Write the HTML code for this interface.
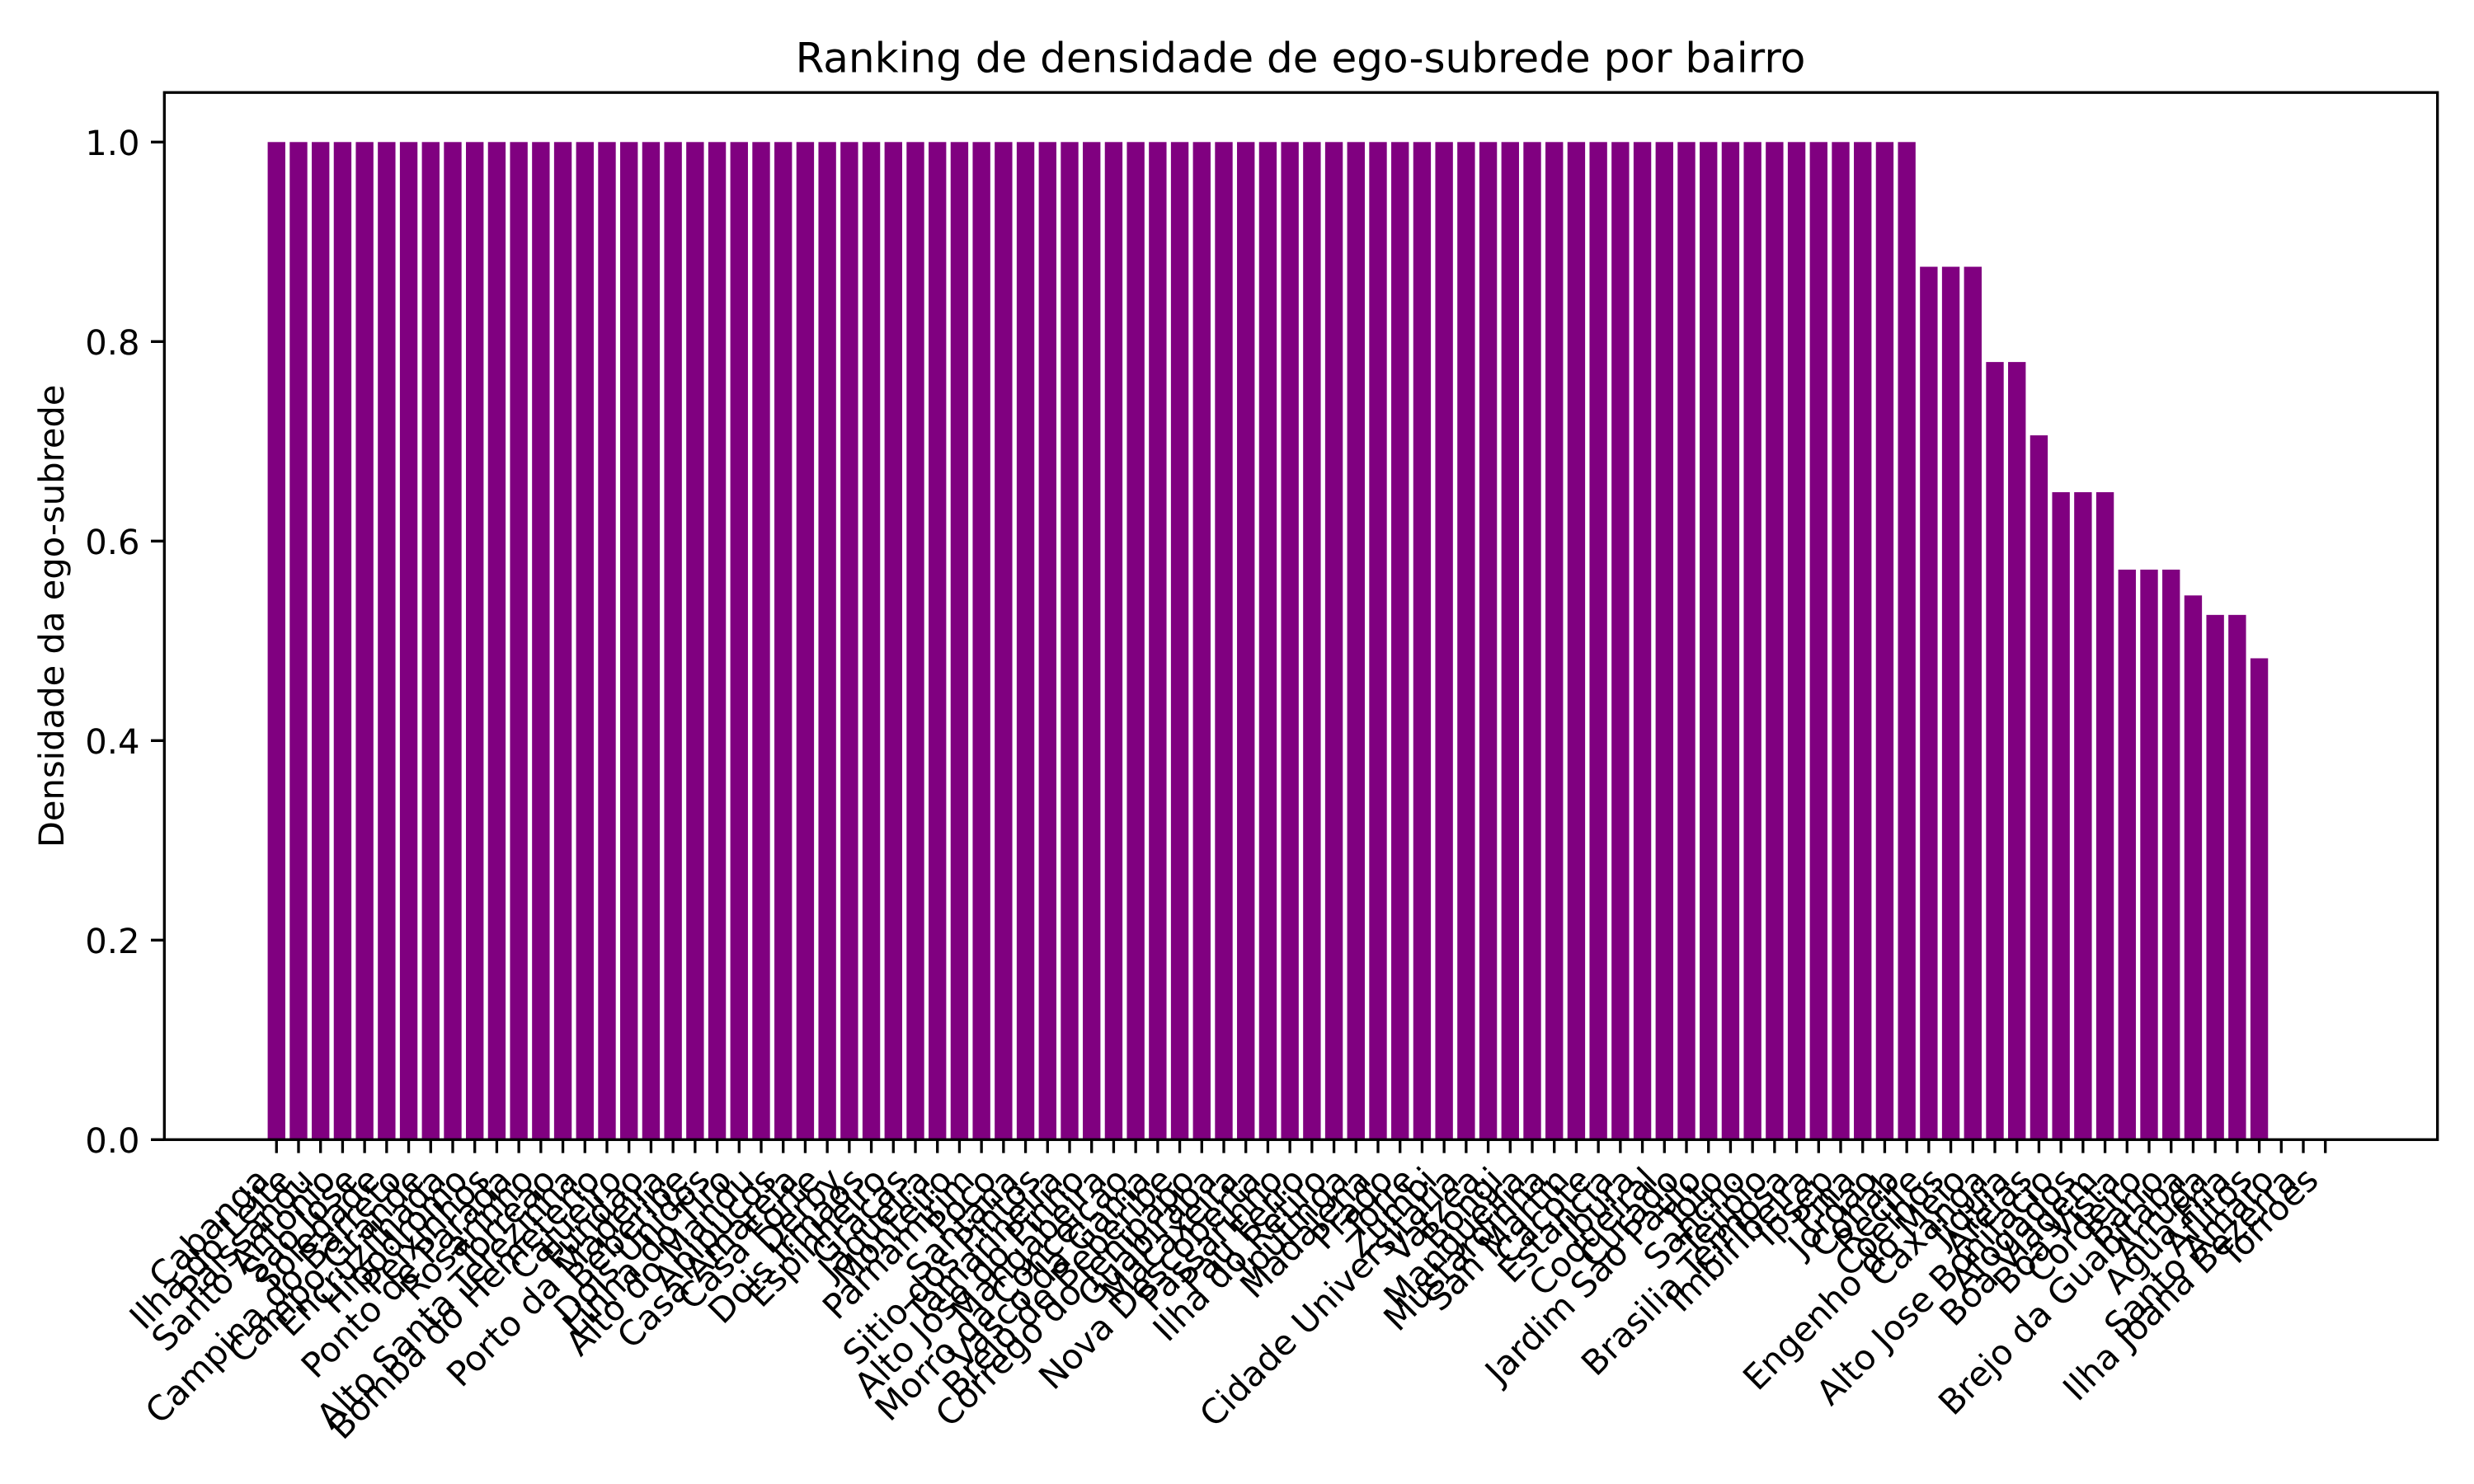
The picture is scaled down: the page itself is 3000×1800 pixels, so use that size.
<!DOCTYPE html>
<html lang="pt">
<head>
<meta charset="utf-8">
<title>Ranking de densidade de ego-subrede por bairro</title>
<style>
html,body{margin:0;padding:0;background:#fff;}
svg{display:block;}
text{font-family:"DejaVu Sans","Liberation Sans",sans-serif;fill:#000;text-rendering:geometricPrecision;}
</style>
</head>
<body>
<svg id="chart" xmlns="http://www.w3.org/2000/svg" width="3000" height="1800" viewBox="0 0 3000 1800">
  <rect x="0" y="0" width="3000" height="1800" fill="#ffffff"/>
  <g id="bars"></g>
  <g id="x-ticks"></g>
  <g id="y-ticks"></g>
  <rect x="199.3" y="112.2" width="2756.4" height="1270.1" fill="none" stroke="#000" stroke-width="3.33"/>
  <text x="1577" y="87.5" font-size="50" text-anchor="middle">Ranking de densidade de ego-subrede por bairro</text>
  <text transform="translate(77.2,747.3) rotate(-90)" font-size="41.67" text-anchor="middle">Densidade da ego-subrede</text>
</svg>
<script>
const categories = ["Cabanga","Ilha do Leite","Paissandu","Santo Antonio","Sao Jose","Soledade","Campina do Barreto","Campo Grande","Encruzilhada","Hipodromo","Peixinhos","Ponto de Parada","Rosarinho","Torreao","Alto Santa Terezinha","Bomba do Hemeterio","Cajueiro","Fundao","Porto da Madeira","Beberibe","Dois Unidos","Linha do Tiro","Alto do Mandu","Apipucos","Casa Amarela","Casa Forte","Derby","Dois Irmaos","Espinheiro","Gracas","Jaqueira","Monteiro","Parnamirim","Poco","Santana","Sitio dos Pintos","Tamarineira","Alto Jose do Pinho","Mangabeira","Morro da Conceicao","Vasco da Gama","Brejo de Beberibe","Corrego do Jenipapo","Guabiraba","Macaxeira","Nova Descoberta","Passarinho","Pau Ferro","Ilha do Retiro","Iputinga","Madalena","Prado","Torre","Zumbi","Cidade Universitaria","Varzea","Bongi","Mangueira","Mustardinha","San Martin","Cacote","Estancia","Ibura","Coqueiral","Curado","Jardim Sao Paulo","Toto","Sancho","Tejipio","Brasilia Teimosa","Imbiribeira","Ipsep","Pina","Jordao","Cohab","Recife","Coelhos","Engenho do Meio","Caxanga","Jiquia","Areias","Alto Jose Bonifacio","Afogados","Boa Viagem","Boa Vista","Cordeiro","Barro","Brejo da Guabiraba","Arruda","Agua Fria","Aflitos","Santo Amaro","Ilha Joana Bezerra","Torroes"];
const densities = [1,1,1,1,1,1,1,1,1,1,1,1,1,1,1,1,1,1,1,1,1,1,1,1,1,1,1,1,1,1,1,1,1,1,1,1,1,1,1,1,1,1,1,1,1,1,1,1,1,1,1,1,1,1,1,1,1,1,1,1,1,1,1,1,1,1,1,1,1,1,1,1,1,1,1,0.875,0.875,0.875,0.7795,0.7795,0.706,0.649,0.649,0.649,0.5714,0.5714,0.5714,0.5455,0.526,0.526,0.4825,0,0,0];
const yTickValues = [0,0.2,0.4,0.6,0.8,1];
const yTickLabels = ["0.0","0.2","0.4","0.6","0.8","1.0"];

const SVG_NS = "http://www.w3.org/2000/svg";
const plotLeft = 199.3, plotRight = 2955.7, plotBottom = 1382.3;
const xMin = -5.09, xMax = 98.09, yUnit = 1210;
const barWidth = 0.8;

function xScale(i) { return plotLeft + (i - xMin) * (plotRight - plotLeft) / (xMax - xMin); }
function yScale(v) { return plotBottom - v * yUnit; }
function make(tag, attrs) {
  const el = document.createElementNS(SVG_NS, tag);
  for (const k in attrs) el.setAttribute(k, attrs[k]);
  return el;
}

const barsGroup = document.getElementById("bars");
const xTicksGroup = document.getElementById("x-ticks");
const yTicksGroup = document.getElementById("y-ticks");
const bandWidth = xScale(1) - xScale(0);

densities.forEach(function (v, i) {
  const bar = make("rect", {
    x: xScale(i) - bandWidth * barWidth / 2,
    y: yScale(v),
    width: bandWidth * barWidth,
    height: plotBottom - yScale(v),
    fill: "#800080"
  });
  
  
  barsGroup.appendChild(bar);
});

categories.forEach(function (name, i) {
  const tx = xScale(i);
  const tick = make("line", { x1: tx, x2: tx, y1: plotBottom, y2: plotBottom + 16.3, stroke: "#000", "stroke-width": 3.33 });
  
  
  xTicksGroup.appendChild(tick);

  const label = make("text", {
    transform: "translate(" + (tx - 6.1) + ",1433.9) rotate(-45)",
    "font-size": 41.67,
    "text-anchor": "end"
  });
  label.textContent = name;
  
  
  xTicksGroup.appendChild(label);
});

yTickValues.forEach(function (v, i) {
  const ty = yScale(v);
  const tick = make("line", { x1: plotLeft - 16.3, x2: plotLeft, y1: ty, y2: ty, stroke: "#000", "stroke-width": 3.33 });
  
  
  yTicksGroup.appendChild(tick);

  const label = make("text", { x: 169.5, y: ty + 15.6, "font-size": 41.67, "text-anchor": "end" });
  label.textContent = yTickLabels[i];
  
  
  yTicksGroup.appendChild(label);
});
</script>
</body>
</html>
